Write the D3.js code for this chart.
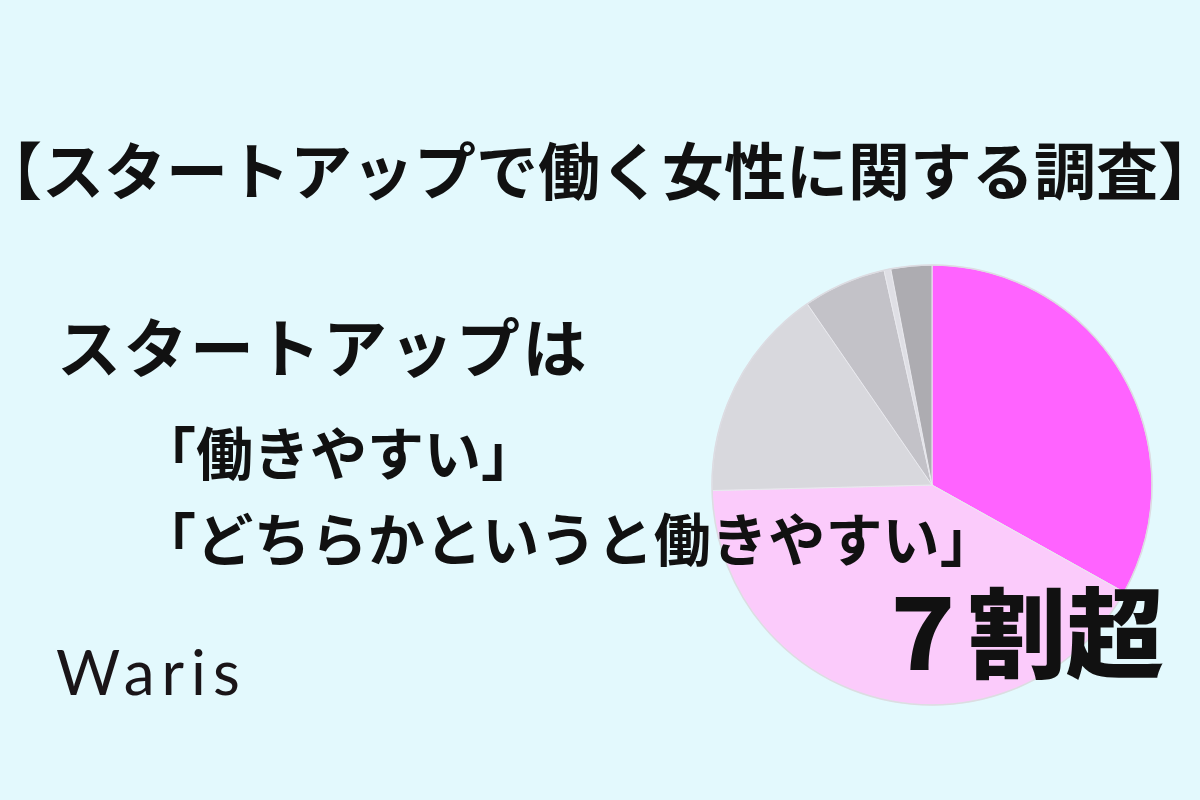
<!DOCTYPE html>
<html><head><meta charset="utf-8">
<script src="https://cdn.jsdelivr.net/npm/d3@7"></script>
<style>
html,body{margin:0;padding:0;background:#e3f9fd;}
svg{display:block;}
</style></head>
<body>
<svg id="c" width="1200" height="800"></svg>
<script>
const categories = ["働きやすい", "どちらかというと働きやすい", "どちらともいえない", "どちらかというと働きにくい", "無回答", "働きにくい"];
const values = [33.1, 41.5, 15.8, 6.1, 0.5, 3.0];
const colors = ["#ff63ff", "#fbcbfb", "#d8d8dd", "#c3c2c8", "#dfdfe5", "#adacb1"];
const titleText = "【スタートアップで働く女性に関する調査】";
const leadLines = ["スタートアップは", "「働きやすい」", "「どちらかというと働きやすい」"];
const bigNum = "７";
const bigRest = "割超";
const brand = "Waris";

const svg = d3.select("#c");
svg.append("rect").attr("width",1200).attr("height",800).attr("fill","#e3f9fd");

const cx = 932, cy = 485, r = 220;
const pie = d3.pie().sort(null).value(d => d)(values);
const arc = d3.arc().innerRadius(0).outerRadius(r);
const g = svg.append("g").attr("transform", `translate(${cx},${cy})`);
g.selectAll("path").data(pie).join("path")
  .attr("d", arc)
  .attr("fill", (d,i) => colors[i])
  .attr("stroke", "#e9e9ee").attr("stroke-width", 1);
g.append("circle").attr("r", r).attr("fill","none").attr("stroke","#dcdce2").attr("stroke-width",1.5);

const jp = "'Noto Sans CJK JP','Noto Sans',sans-serif";
svg.append("text").attr("x", 600).attr("y", 195).attr("text-anchor","middle")
  .attr("font-family", jp).attr("font-weight", 700).attr("font-size", 62).attr("fill","#111")
  .text(titleText);

svg.append("text").attr("x", 57).attr("y", 372)
  .attr("font-family", jp).attr("font-weight", 700).attr("font-size", 64)
  .attr("letter-spacing", 2.5).attr("fill","#111")
  .text(leadLines[0]);
svg.append("text").attr("x", 139).attr("y", 475)
  .attr("font-family", jp).attr("font-weight", 700).attr("font-size", 57).attr("fill","#111")
  .text(leadLines[1]);
svg.append("text").attr("x", 139).attr("y", 561)
  .attr("font-family", jp).attr("font-weight", 700).attr("font-size", 57)
  .attr("letter-spacing", 0.2).attr("fill","#111")
  .text(leadLines[2]);

const big = svg.append("text").attr("x", 1164).attr("y", 670).attr("text-anchor","end")
  .attr("font-family", jp).attr("font-weight", 900).attr("font-size", 98).attr("fill","#111");
big.append("tspan").text(bigNum);
big.append("tspan").attr("dx", -4).text(bigRest);

svg.append("text").attr("x", 56).attr("y", 695)
  .attr("font-family", "'Lato','Noto Sans',sans-serif").attr("font-weight", 400).attr("font-size", 62)
  .attr("letter-spacing", 7).attr("fill","#1a1518")
  .text(brand);
</script>
</body></html>
